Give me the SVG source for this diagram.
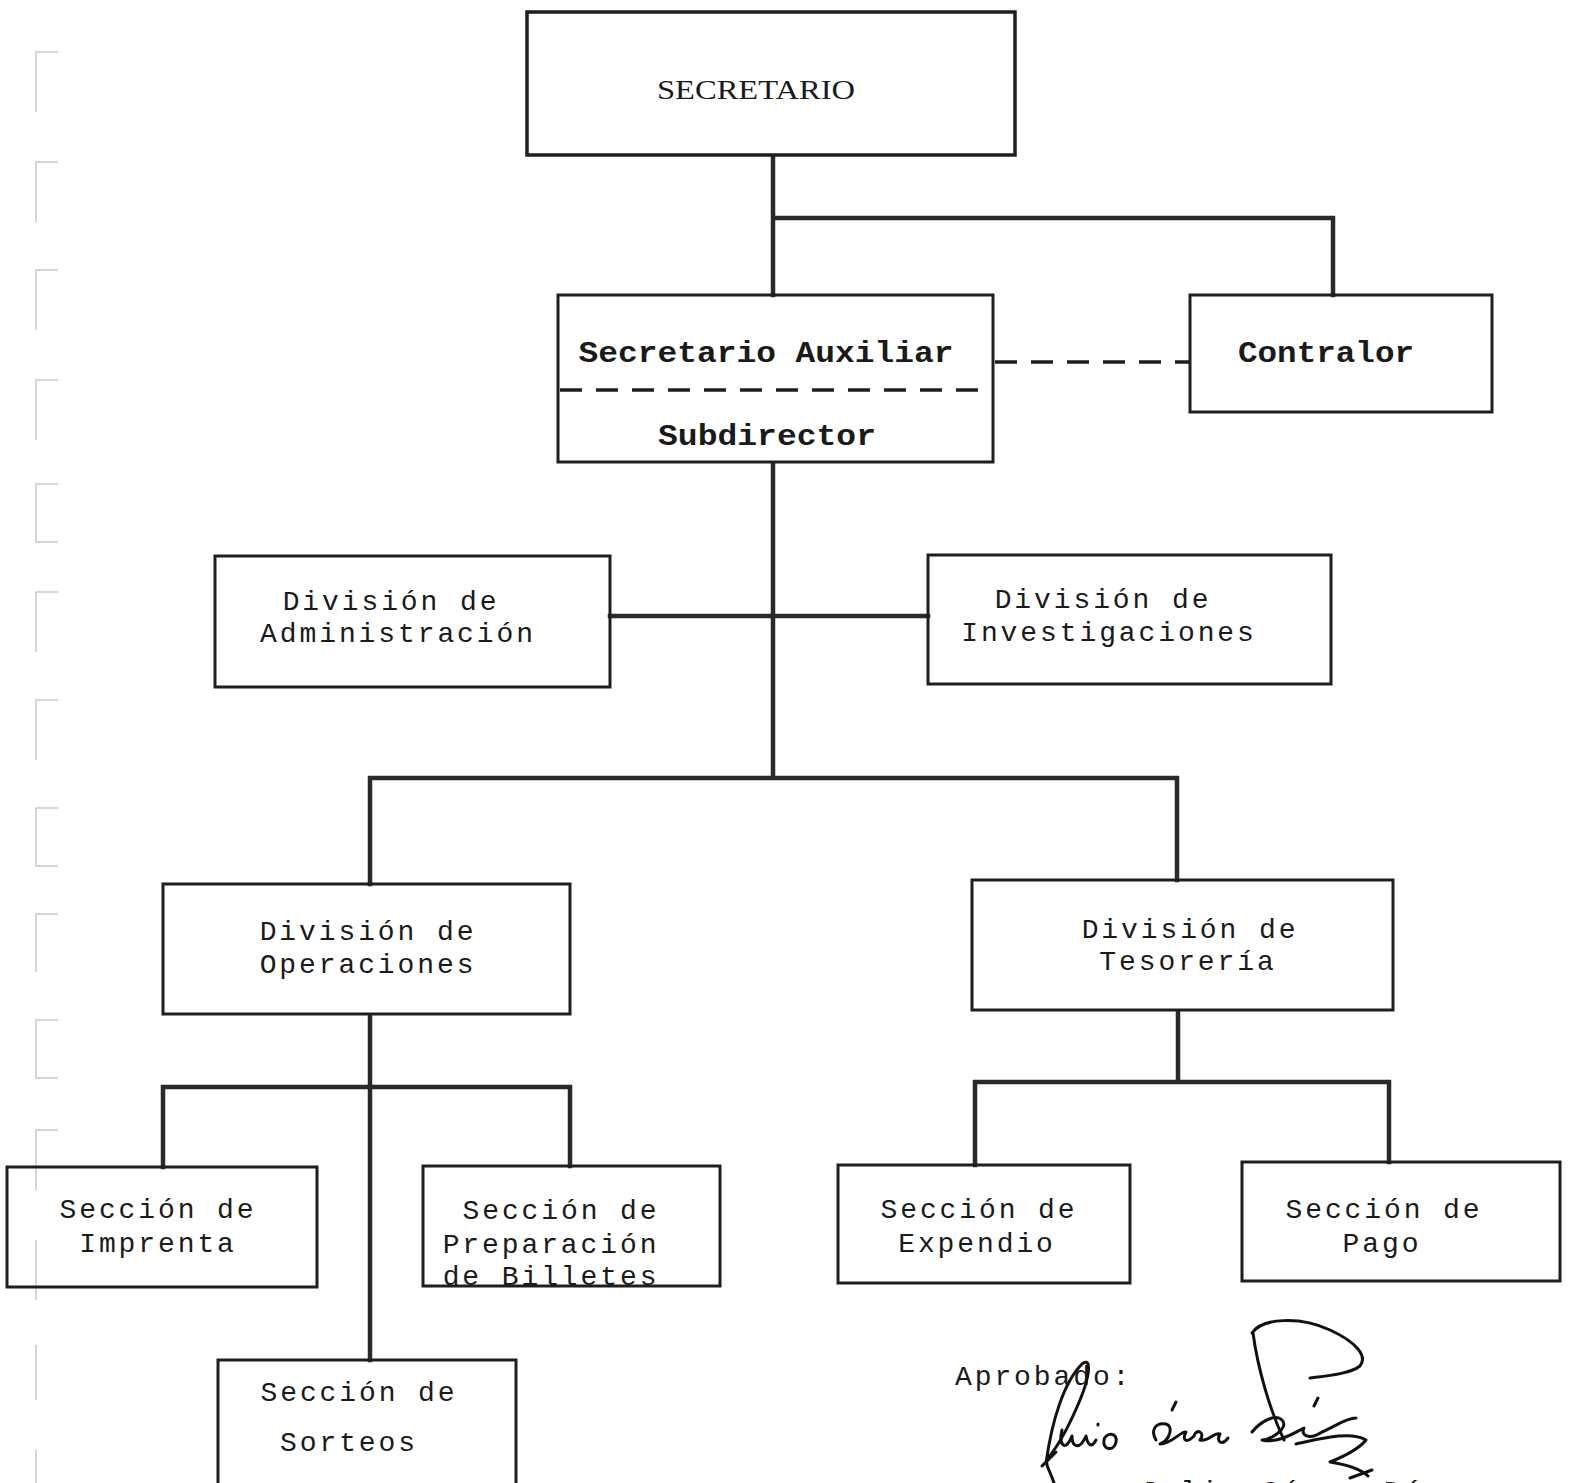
<svg xmlns="http://www.w3.org/2000/svg" width="1571" height="1483" viewBox="0 0 1571 1483">
<style>
.box{fill:none;stroke:#1e1e1e;stroke-width:3}
.con{fill:none;stroke:#2a2a2a;stroke-width:4.5;stroke-linecap:square}
.dash{fill:none;stroke:#1e1e1e;stroke-width:3.5;stroke-dasharray:22 14}
.t{font-family:"Liberation Mono","DejaVu Sans Mono",monospace;font-size:28px;letter-spacing:2.9px;fill:#1a1a1a;text-anchor:middle}
.c{font-family:"Liberation Mono","DejaVu Sans Mono",monospace;font-size:30px;fill:#1a1a1a;text-anchor:middle;font-weight:bold}
.s{fill:none;stroke:#111;stroke-width:3;stroke-linecap:round;stroke-linejoin:round}
.edge{fill:none;stroke:#c8c8c8;stroke-width:1.5}
</style>
<rect width="1571" height="1483" fill="#ffffff"/>
<g id="page-edge">
<path class="edge" d="M58 52H36V112M58 162H36V222M58 270H36V330M58 380H36V440M58 484H36V542H58M58 592H36V652M58 700H36V760M58 808H36V866H58M58 914H36V972M58 1020H36V1078H58M58 1130H36V1190M36 1240V1300M36 1345V1400M36 1450V1483"/>
</g>
<g id="connectors">
<path class="con" d="M773 157V295M773 218H1333V295"/>
<path class="dash" d="M995 362H1190"/>
<path class="con" d="M773 464V778M610 616H928M370 778H1177M370 778V884M1177 778V880"/>
<path class="con" d="M370 1016V1360M163 1087H570M163 1087V1167M570 1087V1166"/>
<path class="con" d="M1178 1012V1082M975 1082H1389M975 1082V1165M1389 1082V1162"/>
</g>
<g id="secretario">
<rect class="box" x="527" y="12" width="488" height="143" style="stroke-width:3.5"/>
<text x="756" y="99" style="font-family:'Liberation Serif','DejaVu Serif',serif;font-size:28px;fill:#1a1a1a;text-anchor:middle" textLength="198" lengthAdjust="spacingAndGlyphs">SECRETARIO</text>
</g>
<g id="secretario-auxiliar">
<rect class="box" x="558" y="295" width="435" height="167"/>
<path class="dash" d="M560 390H993"/>
<text class="c" x="766" y="362" textLength="375" lengthAdjust="spacingAndGlyphs">Secretario Auxiliar</text>
<text class="c" x="767" y="445" textLength="218" lengthAdjust="spacingAndGlyphs">Subdirector</text>
</g>
<g id="contralor">
<rect class="box" x="1190" y="295" width="302" height="117"/>
<text class="c" x="1326" y="362" textLength="176" lengthAdjust="spacingAndGlyphs">Contralor</text>
</g>
<g id="div-administracion">
<rect class="box" x="215" y="556" width="395" height="131"/>
<text class="t" x="391" y="610">División de</text>
<text class="t" x="398" y="642">Administración</text>
</g>
<g id="div-investigaciones">
<rect class="box" x="928" y="555" width="403" height="129"/>
<text class="t" x="1103" y="608">División de</text>
<text class="t" x="1109" y="641">Investigaciones</text>
</g>
<g id="div-operaciones">
<rect class="box" x="163" y="884" width="407" height="130"/>
<text class="t" x="368" y="940">División de</text>
<text class="t" x="368" y="973">Operaciones</text>
</g>
<g id="div-tesoreria">
<rect class="box" x="972" y="880" width="421" height="130"/>
<text class="t" x="1190" y="938">División de</text>
<text class="t" x="1188" y="970">Tesorería</text>
</g>
<g id="sec-imprenta">
<rect class="box" x="7" y="1167" width="310" height="120"/>
<text class="t" x="158" y="1218">Sección de</text>
<text class="t" x="158" y="1252">Imprenta</text>
</g>
<g id="sec-preparacion">
<rect class="box" x="423" y="1166" width="297" height="120"/>
<text class="t" x="561" y="1219">Sección de</text>
<text class="t" x="551" y="1253">Preparación</text>
<text class="t" x="551" y="1285">de Billetes</text>
</g>
<g id="sec-sorteos">
<rect class="box" x="218" y="1360" width="298" height="140"/>
<text class="t" x="359" y="1401">Sección de</text>
<text class="t" x="349" y="1451">Sorteos</text>
</g>
<g id="sec-expendio">
<rect class="box" x="838" y="1165" width="292" height="118"/>
<text class="t" x="979" y="1218">Sección de</text>
<text class="t" x="977" y="1252">Expendio</text>
</g>
<g id="sec-pago">
<rect class="box" x="1242" y="1162" width="318" height="119"/>
<text class="t" x="1384" y="1218">Sección de</text>
<text class="t" x="1382" y="1252">Pago</text>
</g>
<g id="aprobacion">
<text x="955" y="1385" style="font-family:'Liberation Mono','DejaVu Sans Mono',monospace;font-size:28px;letter-spacing:2.9px;fill:#1a1a1a">Aprobado:</text>
<path class="s" d="M1046 1463C1052 1420 1064 1382 1082 1364C1092 1356 1090 1376 1080 1400C1070 1424 1058 1446 1048 1458C1044 1464 1050 1470 1054 1483"/>
<path class="s" d="M1042 1466L1056 1452"/>
<path class="s" d="M1062 1430C1058 1446 1066 1452 1072 1436C1072 1448 1080 1450 1086 1436C1088 1446 1092 1448 1096 1440M1098 1424V1425M1104 1440C1106 1432 1118 1432 1116 1442C1114 1452 1102 1450 1104 1440"/>
<path class="s" d="M1176 1402L1172 1410M1156 1440C1150 1430 1156 1422 1166 1424C1174 1426 1170 1440 1160 1444C1172 1444 1182 1430 1186 1432C1182 1440 1186 1444 1194 1436C1196 1428 1206 1432 1200 1440C1208 1442 1214 1432 1220 1434C1216 1442 1222 1446 1228 1438"/>
<path class="s" d="M1252 1333C1262 1318 1300 1316 1330 1330C1356 1342 1368 1356 1360 1366C1350 1374 1326 1376 1310 1378M1253 1333C1258 1370 1270 1410 1284 1440"/>
<path class="s" d="M1318 1398L1314 1406M1252 1432C1262 1420 1276 1414 1282 1420C1290 1428 1270 1440 1262 1440C1278 1444 1296 1432 1304 1428C1300 1436 1310 1440 1322 1432C1336 1426 1346 1418 1356 1418M1296 1444C1316 1440 1350 1430 1366 1440C1358 1450 1340 1458 1330 1462C1342 1464 1360 1468 1368 1476M1350 1478L1372 1470"/>
<text x="1140" y="1500" style="font-family:'Liberation Mono','DejaVu Sans Mono',monospace;font-size:28px;letter-spacing:3.5px;fill:#1a1a1a">Julio César Díaz</text>
</g>
</svg>
